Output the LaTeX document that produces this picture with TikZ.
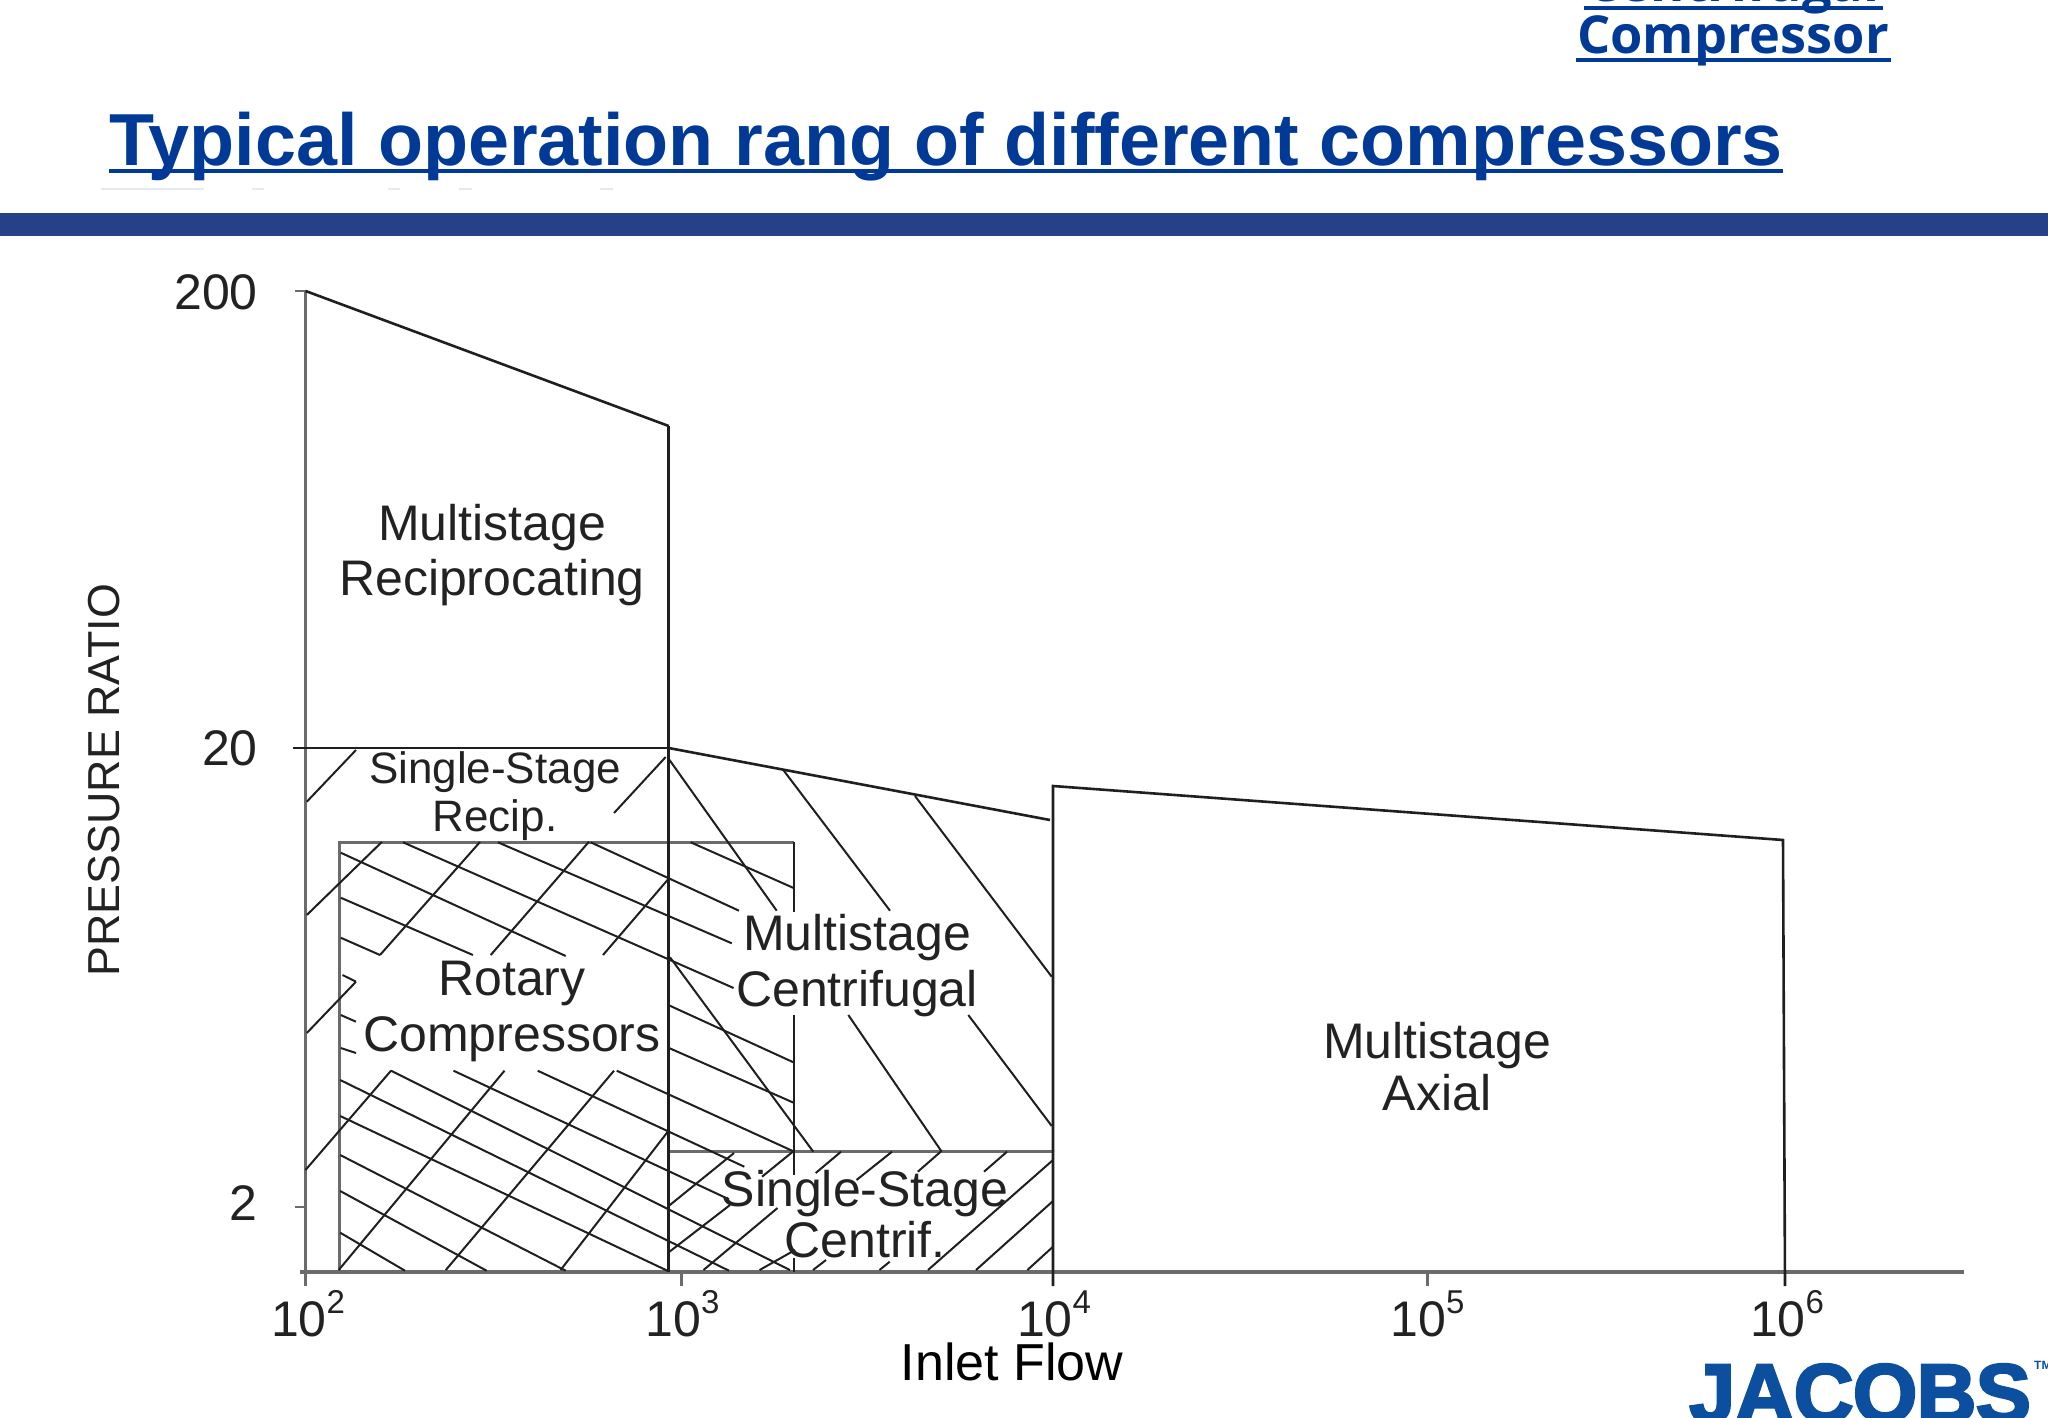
\documentclass[tikz,border=0pt]{standalone}
\usepackage{fontspec}
\setmainfont{Liberation Sans}
\newfontfamily\opensansbold[BoldFont={* Bold}]{Open Sans}
\newfontfamily\logofont[FakeBold=3,LetterSpace=-1]{Liberation Sans Bold}
\definecolor{titleblue}{HTML}{003A96}
\definecolor{bandblue}{HTML}{274189}
\definecolor{logoblue}{HTML}{0B4F9E}
\definecolor{ghost}{HTML}{E6E9EE}
\definecolor{inkdark}{HTML}{222222}
\newcommand{\tensup}[1]{10\raisebox{0.46em}{\fontsize{33}{33}\selectfont #1}}
\tikzset{
  frame/.style={line width=2.6pt,color=black!88},
  graywall/.style={line width=3.4pt,color=black!58},
  hatch/.style={line width=2pt,color=black!88},
  chartlabel/.style={align=center,inner sep=0pt,text=inkdark,font=\fontsize{50}{55}\selectfont},
  ticklabel/.style={inner sep=0pt,text=inkdark,font=\fontsize{50}{55}\selectfont},
}
\begin{document}
\begin{tikzpicture}[x=1pt,y=-1pt]
\useasboundingbox (0,0) rectangle (2048,1418);
\clip (0,0) rectangle (2048,1418);
% band
\fill[bandblue] (0,212.5) rectangle (2048,236);
% ghost fragments
\foreach \a/\b in {101/204,252/264,388/400,459/472,600/613}
  \fill[ghost] (\a,187.5) rectangle (\b,190);
% title
\node[anchor=base west,inner sep=0pt,text=titleblue,font=\fontsize{73.7}{80}\selectfont\bfseries] (title) at (109,165) {Typical operation rang of different compressors};
\draw[titleblue,line width=3.6pt] ([yshift=-6pt]title.base west) -- ([yshift=-6pt]title.base east);
% top right
\node[anchor=base,inner sep=0pt,text=titleblue,font=\fontsize{52.3}{60}\opensansbold\bfseries] (cmp) at (1733,53.5) {Compressor};
\node[anchor=base,inner sep=0pt,text=titleblue,font=\fontsize{52.3}{60}\opensansbold\bfseries] (cen) at (1733,1.5) {Centrifugal};
\draw[titleblue,line width=4pt] (1576,60.2) -- (1891,60.2);
\draw[titleblue,line width=4pt] (1584,8.2) -- (1883,8.2);
% logo
\node[anchor=base west,inner sep=0pt,text=logoblue,font=\fontsize{83}{90}\logofont] (logo) at (1689,1422) {JACOBS};
\node[anchor=base west,inner sep=0pt,text=logoblue,font=\fontsize{12}{12}\selectfont\bfseries] (tm) at (2034,1369) {TM};
% axes and walls
\draw[graywall] (300,1272) -- (1964,1272);
\draw[graywall] (305.6,291) -- (305.6,1286);
\draw[graywall,line width=2pt] (295,291) -- (305.6,291);
\draw[graywall,line width=2.4pt] (295,1207) -- (305.6,1207);
\draw[graywall,line width=2.4pt] (681.5,1272) -- (681.5,1286);
\draw[graywall,line width=2.4pt] (1427.6,1272) -- (1427.6,1286);
\draw[graywall] (339.6,1272) -- (339.6,842.4) -- (794,842.4);
\draw[graywall] (668.7,1151.7) -- (1053,1151.7);
% frames
\draw[frame] (305.6,291) -- (668.7,426);
\draw[frame] (668.7,426) -- (668.7,1272);
\draw[frame] (293,748) -- (668.7,748);
\draw[frame] (668.7,748) -- (1050,820);
\draw[frame] (1053,1286) -- (1053,786) -- (1783,840) -- (1785,1286);
\draw[frame] (794,842.4) -- (794,912);
\draw[frame] (794,1015) -- (794,1175);
\draw[frame] (794,1258) -- (794,1272);
% hatch up-right, upper
\foreach \a/\b/\c/\d in {306.8/801.7/356/750, 614/813/665.7/757, 306.8/915/381.8/842,
  380/955/480/842, 490.7/955/589/841.7, 603/955/667.5/880, 306.8/1033/356/981.7,
  305.5/1170/391/1070.7, 338.7/1270/504.5/1070.7, 445.8/1270/614/1070.7, 560.6/1270/667.8/1131.7,
  667.8/1206.7/734/1153, 667.8/1253/730/1205, 703.5/1270/777.5/1208, 759.6/1270/795/1250,
  813/1270/826/1260, 879.5/1270/889.7/1261.7, 928/1270/1053/1160, 976/1270/1053/1201, 1027.4/1270/1053/1246.7,
  792.8/1151.7/762/1176.7, 841/1151.7/815.7/1173, 892/1151.7/856.5/1180, 940.7/1151.7/917.8/1171.7, 1007/1151.7/984/1171.7}
  \draw[hatch] (\a,\b) -- (\c,\d);
% hatch down-right, rotary band and centrifugal
\foreach \a/\b/\c/\d in {340.7/852.7/565.7/956, 403/842.3/733.6/988, 497.9/842.3/731.8/943.3,
  590.7/842.3/739/910.7, 690.7/842.3/794.3/888.3, 340.7/897.7/472.9/955, 340.7/937.7/380/955,
  342.5/975/356/981.7, 340.7/1015/356/1021.7, 340.7/1048/356/1053,
  668.3/1005/794.3/1062.7, 668.3/1047.7/794.3/1103, 616.7/1070.7/794.3/1151.7,
  537.7/1070.7/744.3/1166.7, 453.5/1070.7/729/1199.3, 391/1070.7/790/1270, 340.2/1080/729/1270.7,
  340.2/1116/668/1271, 340.2/1155/565.7/1270.7, 340.2/1191/486.6/1270.7, 340.2/1232.7/405/1270.7,
  668.3/758.3/776.7/910.7, 783.3/770/890/910.7, 915/796/1051.7/976.7, 670/957.3/813.3/1151.7,
  848.3/1015/941.7/1151.7, 968.3/1015/1051.7/1126}
  \draw[hatch] (\a,\b) -- (\c,\d);
% chart labels
\node[chartlabel] (recip) at (492,555) {Multistage\\Reciprocating};
\node[chartlabel,font=\fontsize{44}{48}\selectfont] (srecip) at (495,796) {Single-Stage\\Recip.};
\node[chartlabel,font=\fontsize{50}{56}\selectfont] (rotary) at (512,1011) {Rotary\\Compressors};
\node[chartlabel,font=\fontsize{50}{56}\selectfont] (centri) at (857,966) {Multistage\\Centrifugal};
\node[chartlabel,font=\fontsize{50}{51}\selectfont] (scentri) at (865,1214) {Single-Stage\\Centrif.};
\node[chartlabel,font=\fontsize{50}{52}\selectfont] (axial) at (1437,1067) {Multistage\\Axial};
% axis labels
\node[ticklabel,anchor=base east] (y200) at (258,309) {200};
\node[ticklabel,anchor=base east] (y20) at (258,765) {20};
\node[ticklabel,anchor=base east] (y2) at (258,1220) {2};
\node[ticklabel,anchor=base] (x2) at (308,1336) {\tensup{2}};
\node[ticklabel,anchor=base] (x3) at (682.5,1336) {\tensup{3}};
\node[ticklabel,anchor=base] (x4) at (1054,1336) {\tensup{4}};
\node[ticklabel,anchor=base] (x5) at (1427.6,1336) {\tensup{5}};
\node[ticklabel,anchor=base] (x6) at (1787,1336) {\tensup{6}};
\node[inner sep=0pt,anchor=base,text=black,font=\fontsize{52}{56}\selectfont] (flow) at (1012,1380) {Inlet Flow};
\node[inner sep=0pt,rotate=90,anchor=base,text=inkdark,font=\fontsize{44.8}{50}\selectfont] (pr) at (119,780) {PRESSURE RATIO};
\end{tikzpicture}
\end{document}
